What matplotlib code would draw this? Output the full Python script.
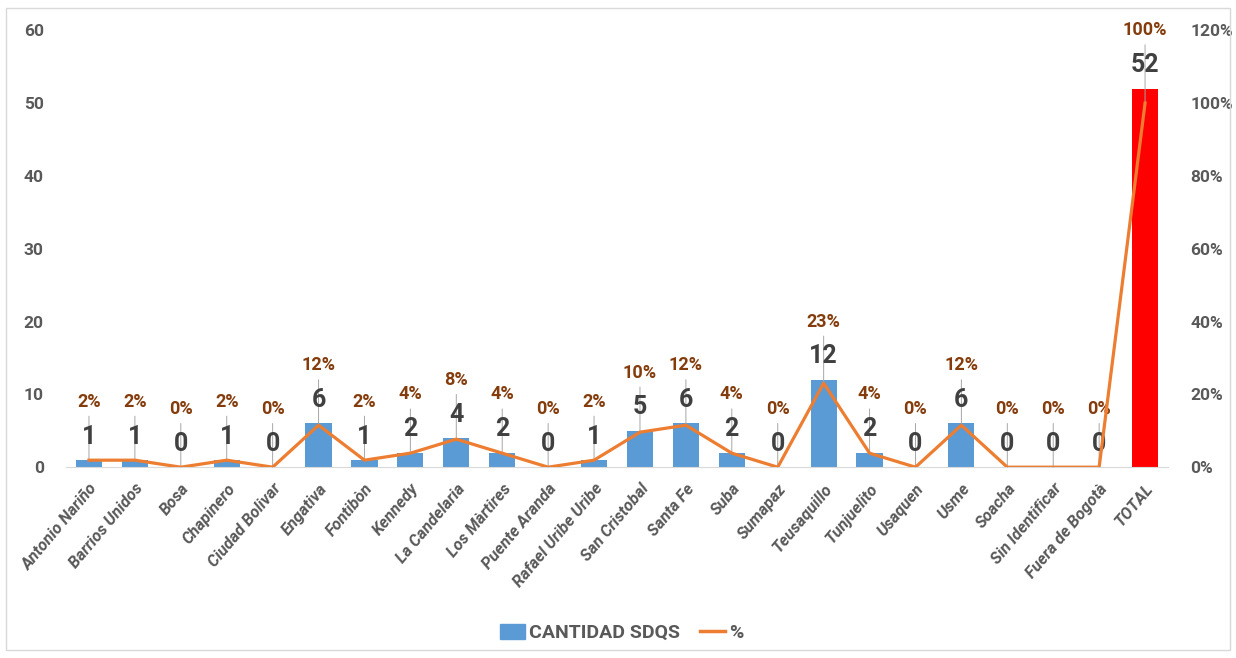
import matplotlib.pyplot as plt
from matplotlib.patches import Rectangle, Patch
from matplotlib.lines import Line2D

# -------- DATA --------
localidades = ["Antonio Nariño", "Barrios Unidos", "Bosa", "Chapinero", "Ciudad Bolivar",
               "Engativa", "Fontibòn", "Kennedy", "La Candelaria", "Los Màrtires",
               "Puente Aranda", "Rafael Uribe Uribe", "San Cristobal", "Santa Fe", "Suba",
               "Sumapaz", "Teusaquillo", "Tunjuelito", "Usaquen", "Usme", "Soacha",
               "Sin Identificar", "Fuera de Bogotà", "TOTAL"]
cantidad = [1, 1, 0, 1, 0, 6, 1, 2, 4, 2, 0, 1, 5, 6, 2, 0, 12, 2, 0, 6, 0, 0, 0, 52]
total = cantidad[-1]
porcentaje = [c / total * 100 for c in cantidad]

plt.rcParams['font.family'] = ['Roboto', 'DejaVu Sans']

BLUE = '#5B9BD5'
ORANGE = '#ED7D31'
GRAY = '#595959'
BROWN = '#843C0C'

# -------- PLOT --------
fig = plt.figure(figsize=(12.36, 6.58), dpi=100)
ax = fig.add_axes([0.0534, 0.290, 0.8916, 0.664])
ax2 = ax.twinx()

x = range(len(localidades))
colors = [BLUE] * (len(cantidad) - 1) + ['#FF0000']
ax.bar(x, cantidad, width=0.57, color=colors, zorder=2)
ax2.plot(x, porcentaje, color=ORANGE, lw=2.3, zorder=3)

ax.set_xlim(-0.5, len(localidades) - 0.5)
ax.set_ylim(0, 60)
ax2.set_ylim(0, 120)
ax.set_yticks(range(0, 61, 10))
ax2.set_yticks(range(0, 121, 20))
ax2.set_yticklabels([f"{v}%" for v in range(0, 121, 20)])

ax.set_xticks(list(x))
ax.set_xticklabels(localidades, rotation=50, ha='right', rotation_mode='anchor',
                   fontsize=11.8, fontstyle='italic', fontweight='bold', color=GRAY)
ax.tick_params(axis='x', length=0, pad=10)
ax.tick_params(axis='y', length=0, labelsize=12.5, labelcolor=GRAY, pad=16)
ax2.tick_params(axis='y', length=0, labelsize=12.5, labelcolor=GRAY, pad=16)
for lbl in ax.get_yticklabels() + ax2.get_yticklabels():
    lbl.set_fontweight('bold')

for a in (ax, ax2):
    for s in ('top', 'left', 'right'):
        a.spines[s].set_visible(False)
ax.spines['bottom'].set_color('#D9D9D9')
ax2.spines['bottom'].set_visible(False)

# data labels with leader lines
for i, (c, p) in enumerate(zip(cantidad, porcentaje)):
    ax.annotate(f"{p:.0f}%", xy=(i, p), xycoords=ax2.transData,
                xytext=(i, c + 8.0), textcoords=ax.transData,
                ha='center', va='center', fontsize=13, fontweight='bold',
                color=BROWN, zorder=5,
                arrowprops=dict(arrowstyle='-', color='#A6A6A6', lw=0.7,
                                shrinkA=2, shrinkB=0))
    ax.text(i, c + 3.2, str(c), ha='center', va='center', fontsize=18,
            fontweight='bold', color='#404040', zorder=6)

# legend
handles = [Patch(color=BLUE, label='CANTIDAD SDQS'),
           Line2D([], [], color=ORANGE, lw=2.5, label='%')]
leg = fig.legend(handles=handles, loc='center', bbox_to_anchor=(0.503, 0.038),
                 ncol=2, frameon=False, handlelength=1.3, handleheight=0.8,
                 handletextpad=0.2, columnspacing=1.0,
                 prop={'weight': 'bold', 'size': 14})
for t in leg.get_texts():
    t.set_color(GRAY)

# outer border
fig.patches.append(Rectangle((0.005, 0.012), 0.99, 0.976, transform=fig.transFigure,
                             fill=False, edgecolor='#D9D9D9', lw=1))

plt.savefig('out.png', dpi=100)
